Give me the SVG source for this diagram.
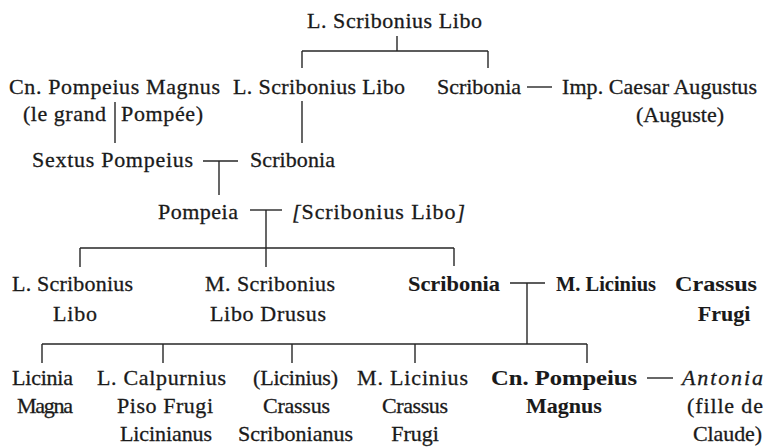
<svg xmlns="http://www.w3.org/2000/svg" width="767" height="447" viewBox="0 0 767 447">
<style>
  text { font-family: "Liberation Serif", "Times New Roman", serif; font-size: 22px; fill: #1a1a1a; stroke: #1a1a1a; stroke-width: 0.3; }
  .b { font-weight: bold; stroke-width: 0.1; }
  .i { font-style: italic; }
  .m { text-anchor: middle; }
  .c line { stroke: #262626; stroke-width: 1.4; stroke-linecap: butt; }
</style>
<rect width="767" height="447" fill="#ffffff"/>
<g class="c" id="connectors">
  <line x1="397" y1="36" x2="397" y2="51"/>
  <line x1="302" y1="51" x2="488" y2="51"/>
  <line x1="302" y1="51" x2="302" y2="68"/>
  <line x1="488" y1="51" x2="488" y2="68"/>
  <line x1="527" y1="87" x2="552" y2="87"/>
  <line x1="115" y1="102" x2="115" y2="143"/>
  <line x1="302" y1="101" x2="302" y2="143"/>
  <line x1="203" y1="161" x2="238" y2="161"/>
  <line x1="219" y1="161" x2="219" y2="195"/>
  <line x1="250" y1="210" x2="282" y2="210"/>
  <line x1="266" y1="210" x2="266" y2="267"/>
  <line x1="80" y1="248" x2="454" y2="248"/>
  <line x1="80" y1="248" x2="80" y2="267"/>
  <line x1="454" y1="248" x2="454" y2="266"/>
  <line x1="510" y1="283" x2="545" y2="283"/>
  <line x1="527" y1="283" x2="527" y2="344"/>
  <line x1="42" y1="344" x2="587" y2="344"/>
  <line x1="42" y1="344" x2="42" y2="363"/>
  <line x1="163" y1="344" x2="163" y2="363"/>
  <line x1="292" y1="344" x2="292" y2="363"/>
  <line x1="415" y1="344" x2="415" y2="363"/>
  <line x1="587" y1="344" x2="587" y2="363"/>
  <line x1="647" y1="378" x2="673" y2="378"/>
</g>
<g id="n-libo-top"><text x="307" y="28" textLength="175" lengthAdjust="spacing">L. Scribonius Libo</text></g>
<g id="n-pompeius-magnus">
  <text x="9" y="94" textLength="211" lengthAdjust="spacing">Cn. Pompeius Magnus</text>
  <text x="23" y="121" textLength="83" lengthAdjust="spacing">(le grand</text>
  <text x="121" y="121" textLength="82" lengthAdjust="spacing">Pompée)</text>
</g>
<g id="n-libo-2"><text x="233" y="94" textLength="172" lengthAdjust="spacing">L. Scribonius Libo</text></g>
<g id="n-scribonia-1"><text x="437" y="94" textLength="84" lengthAdjust="spacing">Scribonia</text></g>
<g id="n-augustus">
  <text x="562" y="94" textLength="195" lengthAdjust="spacing">Imp. Caesar Augustus</text>
  <text class="m" x="680" y="122">(Auguste)</text>
</g>
<g id="n-sextus"><text x="32" y="167" textLength="161" lengthAdjust="spacing">Sextus Pompeius</text></g>
<g id="n-scribonia-2"><text x="250" y="167" textLength="85" lengthAdjust="spacing">Scribonia</text></g>
<g id="n-pompeia"><text x="158" y="219" textLength="80" lengthAdjust="spacing">Pompeia</text></g>
<g id="n-libo-3"><text x="292" y="219" textLength="173" lengthAdjust="spacing"><tspan class="i">[</tspan>Scribonius Libo<tspan class="i">]</tspan></text></g>
<g id="n-libo-4">
  <text x="12" y="291" textLength="121" lengthAdjust="spacing">L. Scribonius</text>
  <text x="53" y="321" textLength="44" lengthAdjust="spacing">Libo</text>
</g>
<g id="n-drusus">
  <text x="205" y="291" textLength="130" lengthAdjust="spacing">M. Scribonius</text>
  <text x="210" y="321" textLength="116" lengthAdjust="spacing">Libo Drusus</text>
</g>
<g id="n-scribonia-3"><text class="b" x="408" y="291" textLength="92" lengthAdjust="spacingAndGlyphs">Scribonia</text></g>
<g id="n-crassus-frugi">
  <text class="b" x="556" y="291" textLength="100" lengthAdjust="spacingAndGlyphs">M. Licinius</text>
  <text class="b" x="675" y="291" textLength="82" lengthAdjust="spacingAndGlyphs">Crassus</text>
  <text class="b m" x="724" y="321">Frugi</text>
</g>
<g id="n-licinia">
  <text x="12" y="385" textLength="61" lengthAdjust="spacing">Licinia</text>
  <text x="17" y="413" textLength="56" lengthAdjust="spacing">Magna</text>
</g>
<g id="n-piso">
  <text x="97" y="385" textLength="129" lengthAdjust="spacing">L. Calpurnius</text>
  <text x="117" y="413" textLength="96" lengthAdjust="spacing">Piso Frugi</text>
  <text x="120" y="441" textLength="92" lengthAdjust="spacing">Licinianus</text>
</g>
<g id="n-crassus-scribonianus">
  <text x="253" y="385" textLength="85" lengthAdjust="spacing">(Licinius)</text>
  <text x="263" y="413" textLength="67" lengthAdjust="spacing">Crassus</text>
  <text x="238" y="441" textLength="115" lengthAdjust="spacing">Scribonianus</text>
</g>
<g id="n-crassus-frugi-2">
  <text x="357" y="385" textLength="111" lengthAdjust="spacing">M. Licinius</text>
  <text x="382" y="413" textLength="66" lengthAdjust="spacing">Crassus</text>
  <text class="m" x="415" y="441">Frugi</text>
</g>
<g id="n-pompeius-magnus-2">
  <text class="b" x="491" y="385" textLength="146" lengthAdjust="spacingAndGlyphs">Cn. Pompeius</text>
  <text class="b m" x="564" y="413">Magnus</text>
</g>
<g id="n-antonia">
  <text class="i" x="682" y="385" textLength="81" lengthAdjust="spacing">Antonia</text>
  <text x="687" y="413" textLength="76" lengthAdjust="spacing">(fille de</text>
  <text x="693" y="441" textLength="69" lengthAdjust="spacing">Claude)</text>
</g>
</svg>
